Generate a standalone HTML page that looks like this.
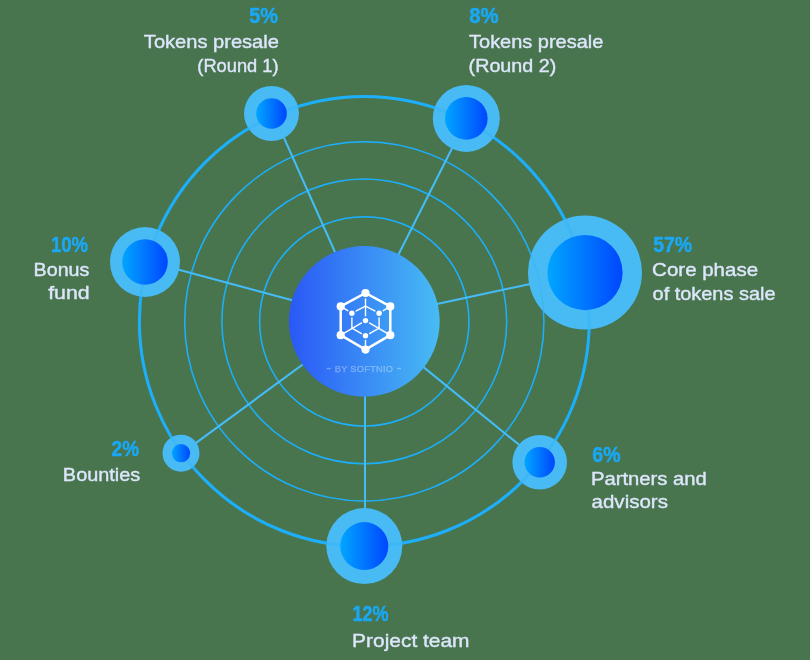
<!DOCTYPE html>
<html><head><meta charset="utf-8"><style>
html,body{margin:0;padding:0;}
body{width:810px;height:660px;background:#48744e;overflow:hidden;position:relative;}
svg{position:absolute;left:0;top:0;will-change:transform;}
.p{font-family:"Liberation Sans",sans-serif;font-weight:bold;font-size:22px;fill:#1aa8f5;stroke:#1aa8f5;stroke-width:0.5px;}
.t{font-family:"Liberation Sans",sans-serif;font-size:19px;fill:#dde6fb;stroke:#dde6fb;stroke-width:0.4px;}
.by{font-family:"Liberation Sans",sans-serif;font-size:9.2px;fill:#fff;stroke:#fff;stroke-width:0.25px;}
</style></head><body>
<svg width="810" height="660" viewBox="0 0 810 660" shape-rendering="auto">
<defs>
<linearGradient id="core" x1="0" y1="0" x2="1" y2="0"><stop offset="0" stop-color="#00a6ff"/><stop offset="1" stop-color="#0046ff"/></linearGradient>
<linearGradient id="hub" x1="0" y1="0" x2="1" y2="0"><stop offset="0" stop-color="#2a58f6"/><stop offset="1" stop-color="#48bcf4"/></linearGradient>
<mask id="im" maskUnits="userSpaceOnUse" x="300" y="250" width="130" height="140"><rect x="300" y="250" width="130" height="140" fill="#fff"/><circle cx="365.5" cy="293" r="5.6" fill="#000"/><circle cx="351.9" cy="313.2" r="4.3" fill="#000"/><circle cx="379.1" cy="313.2" r="4.3" fill="#000"/><circle cx="365.5" cy="320.6" r="4.3" fill="#000"/><circle cx="365.5" cy="335.8" r="4.3" fill="#000"/></mask>
</defs>
<g id="L"><circle cx="364.3" cy="321.4" r="104.7" fill="none" stroke="#1eaffa" stroke-width="1.5"/><circle cx="364.3" cy="321.4" r="142.4" fill="none" stroke="#1eaffa" stroke-width="1.5"/><circle cx="364.3" cy="321.4" r="179.6" fill="none" stroke="#1eaffa" stroke-width="1.5"/><circle cx="364.3" cy="321.4" r="224.9" fill="none" stroke="#1eaffa" stroke-width="3"/><line x1="365.10" y1="319.55" x2="272.88" y2="112.89" stroke="#46bcf7" stroke-width="2.0"/><line x1="365.61" y1="319.70" x2="466.95" y2="118.73" stroke="#46bcf7" stroke-width="2.0"/><line x1="365.20" y1="319.48" x2="584.92" y2="272.24" stroke="#46bcf7" stroke-width="2.0"/><line x1="365.13" y1="319.78" x2="145.35" y2="260.71" stroke="#46bcf7" stroke-width="2.0"/><line x1="364.85" y1="319.02" x2="181.34" y2="453.67" stroke="#46bcf7" stroke-width="2.0"/><line x1="365.12" y1="319.60" x2="540.00" y2="461.83" stroke="#46bcf7" stroke-width="2.0"/><line x1="365.00" y1="319.50" x2="365.00" y2="546.10" stroke="#46bcf7" stroke-width="2.0"/></g>
<circle cx="271.5" cy="113.5" r="27.5" fill="#48baf4"/><circle cx="466.3" cy="118.4" r="33.5" fill="#48baf4"/><circle cx="585.0" cy="272.6" r="57.0" fill="#48baf4"/><circle cx="145.0" cy="262.0" r="35.0" fill="#48baf4"/><circle cx="181.0" cy="453.2" r="18.5" fill="#48baf4"/><circle cx="539.7" cy="462.2" r="27.3" fill="#48baf4"/><circle cx="364.3" cy="546.1" r="38.0" fill="#48baf4"/>
<use href="#L" opacity="0.25"/>
<circle cx="271.5" cy="113.5" r="15.3" fill="url(#core)"/><circle cx="466.3" cy="118.4" r="21.3" fill="url(#core)"/><circle cx="585.0" cy="272.6" r="37.6" fill="url(#core)"/><circle cx="145.0" cy="262.0" r="22.8" fill="url(#core)"/><circle cx="181.0" cy="453.2" r="9.1" fill="url(#core)"/><circle cx="539.7" cy="462.2" r="15.2" fill="url(#core)"/><circle cx="364.3" cy="546.1" r="24.0" fill="url(#core)"/>
<circle cx="364.3" cy="321.4" r="75.4" fill="url(#hub)"/>
<path d="M365.5,293 L390.3,306.4 L390.3,335.2 L365.5,349.6 L340.7,335.2 L340.7,306.4 Z" fill="none" stroke="#fff" stroke-width="2.5" stroke-linejoin="round"/><g mask="url(#im)"><line x1="365.5" y1="293" x2="365.5" y2="320.6" stroke="#fff" stroke-width="1.4"/><line x1="365.5" y1="306.2" x2="351.9" y2="313.2" stroke="#fff" stroke-width="1.4"/><line x1="365.5" y1="306.2" x2="379.1" y2="313.2" stroke="#fff" stroke-width="1.4"/><line x1="340.7" y1="306.4" x2="351.9" y2="313.2" stroke="#fff" stroke-width="1.4"/><line x1="390.3" y1="306.4" x2="379.1" y2="313.2" stroke="#fff" stroke-width="1.4"/><line x1="351.9" y1="313.2" x2="351.9" y2="328.2" stroke="#fff" stroke-width="1.4"/><line x1="379.1" y1="313.2" x2="379.1" y2="328.2" stroke="#fff" stroke-width="1.4"/><line x1="340.7" y1="335.2" x2="365.5" y2="320.6" stroke="#fff" stroke-width="1.4"/><line x1="390.3" y1="335.2" x2="365.5" y2="320.6" stroke="#fff" stroke-width="1.4"/><line x1="351.9" y1="328.2" x2="365.5" y2="335.8" stroke="#fff" stroke-width="1.4"/><line x1="379.1" y1="328.2" x2="365.5" y2="335.8" stroke="#fff" stroke-width="1.4"/><line x1="365.5" y1="349.6" x2="365.5" y2="335.8" stroke="#fff" stroke-width="1.4"/></g><circle cx="365.5" cy="293" r="4.1" fill="#fff"/><circle cx="340.7" cy="306.4" r="4.1" fill="#fff"/><circle cx="390.3" cy="306.4" r="4.1" fill="#fff"/><circle cx="340.7" cy="335.2" r="4.1" fill="#fff"/><circle cx="390.3" cy="335.2" r="4.1" fill="#fff"/><circle cx="365.5" cy="349.6" r="4.1" fill="#fff"/><circle cx="351.9" cy="313.2" r="2.7" fill="#fff"/><circle cx="379.1" cy="313.2" r="2.7" fill="#fff"/><circle cx="365.5" cy="320.6" r="2.7" fill="#fff"/><circle cx="365.5" cy="335.8" r="2.7" fill="#fff"/>
<g opacity="0.34"><text x="334.80" y="372.20" class="by" textLength="58.20" lengthAdjust="spacing">BY SOFTNIO</text><rect x="326.7" y="367.9" width="4" height="1.3" fill="#fff"/><rect x="397" y="367.9" width="4" height="1.3" fill="#fff"/></g>
<text x="249.31" y="23.40" class="p" textLength="28.74" lengthAdjust="spacingAndGlyphs">5%</text><text x="143.88" y="47.60" class="t" textLength="135.02" lengthAdjust="spacingAndGlyphs">Tokens presale</text><text x="197.33" y="71.60" class="t" textLength="81.26" lengthAdjust="spacingAndGlyphs">(Round 1)</text><text x="469.24" y="23.40" class="p" textLength="29.33" lengthAdjust="spacingAndGlyphs">8%</text><text x="469.06" y="47.60" class="t" textLength="134.27" lengthAdjust="spacingAndGlyphs">Tokens presale</text><text x="468.60" y="71.60" class="t" textLength="87.66" lengthAdjust="spacingAndGlyphs">(Round 2)</text><text x="653.26" y="252.40" class="p" textLength="38.89" lengthAdjust="spacingAndGlyphs">57%</text><text x="652.13" y="275.50" class="t" textLength="105.93" lengthAdjust="spacingAndGlyphs">Core phase</text><text x="652.58" y="299.50" class="t" textLength="122.91" lengthAdjust="spacingAndGlyphs">of tokens sale</text><text x="50.92" y="252.40" class="p" textLength="37.11" lengthAdjust="spacingAndGlyphs">10%</text><text x="33.56" y="275.50" class="t" textLength="55.82" lengthAdjust="spacingAndGlyphs">Bonus</text><text x="48.21" y="299.30" class="t" textLength="41.45" lengthAdjust="spacingAndGlyphs">fund</text><text x="111.59" y="456.20" class="p" textLength="27.46" lengthAdjust="spacingAndGlyphs">2%</text><text x="62.89" y="480.50" class="t" textLength="77.34" lengthAdjust="spacingAndGlyphs">Bounties</text><text x="592.30" y="461.80" class="p" textLength="28.22" lengthAdjust="spacingAndGlyphs">6%</text><text x="590.91" y="484.60" class="t" textLength="115.87" lengthAdjust="spacingAndGlyphs">Partners and</text><text x="591.57" y="508.20" class="t" textLength="76.37" lengthAdjust="spacingAndGlyphs">advisors</text><text x="352.44" y="621.40" class="p" textLength="36.06" lengthAdjust="spacingAndGlyphs">12%</text><text x="352.11" y="646.50" class="t" textLength="117.43" lengthAdjust="spacingAndGlyphs">Project team</text>
</svg>
</body></html>
